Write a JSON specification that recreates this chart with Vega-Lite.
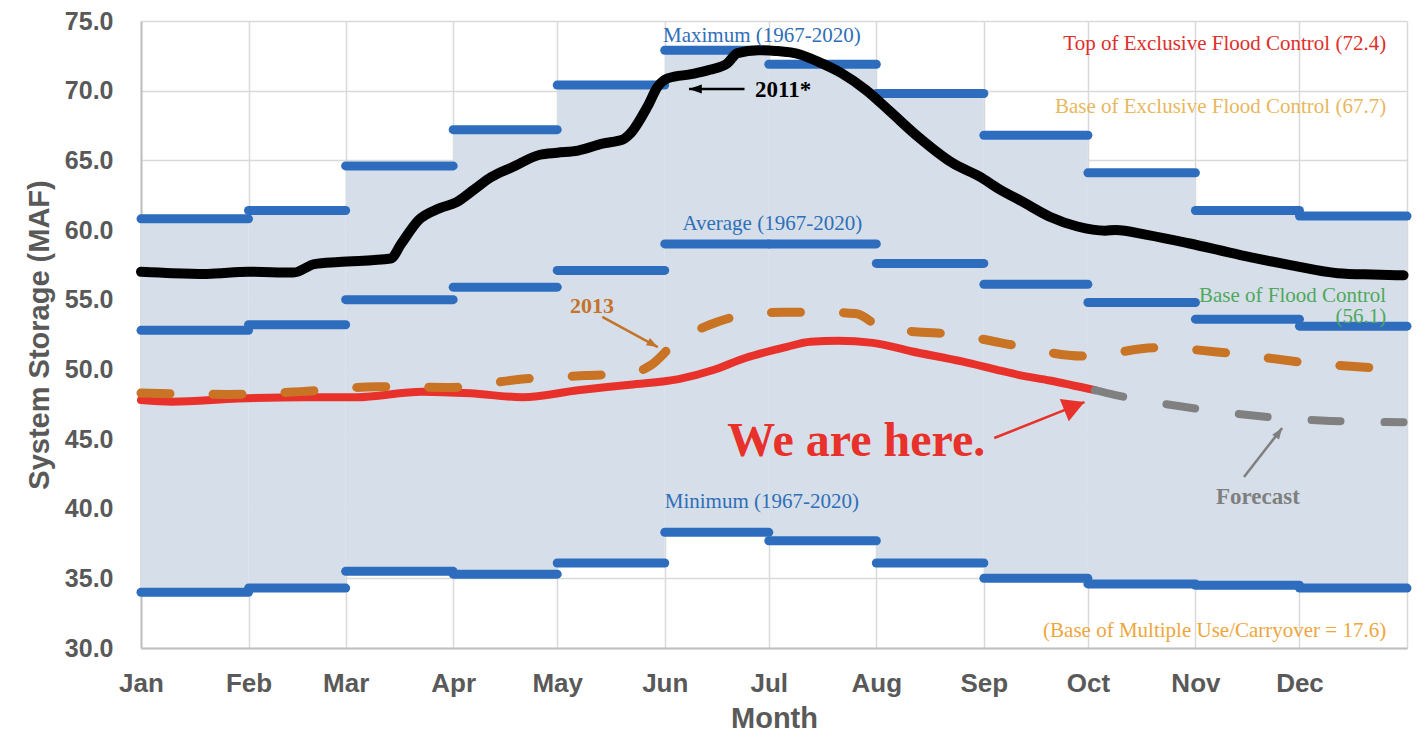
{
  "$schema": "https://vega.github.io/schema/vega-lite/v6.json",
  "width": 1266,
  "height": 627,
  "autosize": {"type": "none"},
  "padding": {"left": 141, "top": 21, "right": 10, "bottom": 84},
  "background": "white",
  "config": {
    "view": {"stroke": null},
    "axisX": {
      "grid": true, "gridColor": "#d9d9d9", "gridWidth": 1.5,
      "domainColor": "#bfbfbf", "domainWidth": 2,
      "ticks": false, "tickSize": 0,
      "labelFlush": false, "labelOverlap": false, "labelBound": false,
      "labelPadding": 22, "labelFontSize": 26, "labelFont": "Liberation Sans",
      "labelFontWeight": "bold", "labelColor": "#595959",
      "titleFontSize": 29, "titleFont": "Liberation Sans", "titleFontWeight": "bold",
      "titleColor": "#595959", "titlePadding": 8
    },
    "axisY": {
      "grid": true, "gridColor": "#d9d9d9", "gridWidth": 1.5,
      "domainColor": "#bfbfbf", "domainWidth": 2,
      "ticks": false, "tickSize": 0,
      "labelPadding": 28, "labelFontSize": 25, "labelFont": "Liberation Sans",
      "labelFontWeight": "bold", "labelColor": "#595959",
      "titleFontSize": 29, "titleFont": "Liberation Sans", "titleFontWeight": "bold",
      "titleColor": "#595959", "titlePadding": 10
    }
  },
  "datasets": {
    "envelope": [
      {"date": "2021-01-01", "date_end": "2021-02-01", "min": 34.0, "avg": 52.8, "max": 60.8},
      {"date": "2021-02-01", "date_end": "2021-03-01", "min": 34.3, "avg": 53.2, "max": 61.4},
      {"date": "2021-03-01", "date_end": "2021-04-01", "min": 35.5, "avg": 55.0, "max": 64.6},
      {"date": "2021-04-01", "date_end": "2021-05-01", "min": 35.3, "avg": 55.9, "max": 67.2},
      {"date": "2021-05-01", "date_end": "2021-06-01", "min": 36.1, "avg": 57.1, "max": 70.4},
      {"date": "2021-06-01", "date_end": "2021-07-01", "min": 38.3, "avg": 59.0, "max": 72.9},
      {"date": "2021-07-01", "date_end": "2021-08-01", "min": 37.7, "avg": 59.0, "max": 71.9},
      {"date": "2021-08-01", "date_end": "2021-09-01", "min": 36.1, "avg": 57.6, "max": 69.8},
      {"date": "2021-09-01", "date_end": "2021-10-01", "min": 35.0, "avg": 56.1, "max": 66.8},
      {"date": "2021-10-01", "date_end": "2021-11-01", "min": 34.6, "avg": 54.8, "max": 64.1},
      {"date": "2021-11-01", "date_end": "2021-12-01", "min": 34.5, "avg": 53.6, "max": 61.4},
      {"date": "2021-12-01", "date_end": "2022-01-01", "min": 34.3, "avg": 53.1, "max": 61.0}
    ],
    "refs": [
      {"name": "Top of Exclusive Flood Control", "value": 72.4},
      {"name": "Base of Exclusive Flood Control", "value": 67.7},
      {"name": "Base of Flood Control", "value": 56.1}
    ],
    "y2011": [
      {"date": "2021-01-01", "value": 57.0},
      {"date": "2021-01-10", "value": 56.9},
      {"date": "2021-01-20", "value": 56.85},
      {"date": "2021-02-01", "value": 57.0},
      {"date": "2021-02-14", "value": 56.95},
      {"date": "2021-02-20", "value": 57.55},
      {"date": "2021-02-27", "value": 57.7},
      {"date": "2021-03-14", "value": 57.95},
      {"date": "2021-03-17", "value": 59.0},
      {"date": "2021-03-22", "value": 60.7},
      {"date": "2021-03-28", "value": 61.55},
      {"date": "2021-04-02", "value": 62.0},
      {"date": "2021-04-07", "value": 62.9},
      {"date": "2021-04-12", "value": 63.8},
      {"date": "2021-04-18", "value": 64.5},
      {"date": "2021-04-26", "value": 65.4},
      {"date": "2021-05-01", "value": 65.55},
      {"date": "2021-05-07", "value": 65.7},
      {"date": "2021-05-14", "value": 66.2},
      {"date": "2021-05-20", "value": 66.5},
      {"date": "2021-05-22", "value": 66.9},
      {"date": "2021-05-27", "value": 68.85},
      {"date": "2021-05-30", "value": 70.3},
      {"date": "2021-06-02", "value": 70.9},
      {"date": "2021-06-09", "value": 71.2},
      {"date": "2021-06-14", "value": 71.5},
      {"date": "2021-06-19", "value": 71.95},
      {"date": "2021-06-22", "value": 72.7},
      {"date": "2021-06-28", "value": 72.9},
      {"date": "2021-07-03", "value": 72.85},
      {"date": "2021-07-10", "value": 72.6},
      {"date": "2021-07-15", "value": 72.1},
      {"date": "2021-07-22", "value": 71.25},
      {"date": "2021-07-29", "value": 70.05},
      {"date": "2021-08-05", "value": 68.5},
      {"date": "2021-08-13", "value": 66.7},
      {"date": "2021-08-23", "value": 64.8},
      {"date": "2021-08-31", "value": 63.8},
      {"date": "2021-09-05", "value": 63.0},
      {"date": "2021-09-12", "value": 62.05},
      {"date": "2021-09-20", "value": 60.95},
      {"date": "2021-09-28", "value": 60.25},
      {"date": "2021-10-06", "value": 59.95},
      {"date": "2021-10-09", "value": 60.0},
      {"date": "2021-10-18", "value": 59.65},
      {"date": "2021-10-30", "value": 59.05},
      {"date": "2021-11-14", "value": 58.2},
      {"date": "2021-11-28", "value": 57.5},
      {"date": "2021-12-12", "value": 56.9},
      {"date": "2021-12-22", "value": 56.8},
      {"date": "2021-12-31", "value": 56.75}
    ],
    "y2013": [
      {"date": "2021-01-01", "value": 48.3},
      {"date": "2021-01-26", "value": 48.2},
      {"date": "2021-02-16", "value": 48.4},
      {"date": "2021-03-10", "value": 48.75},
      {"date": "2021-03-31", "value": 48.7},
      {"date": "2021-04-21", "value": 49.3},
      {"date": "2021-05-09", "value": 49.55},
      {"date": "2021-05-22", "value": 49.7},
      {"date": "2021-05-28", "value": 50.3},
      {"date": "2021-06-04", "value": 51.9},
      {"date": "2021-06-14", "value": 53.2},
      {"date": "2021-06-24", "value": 53.9},
      {"date": "2021-07-05", "value": 54.1},
      {"date": "2021-07-17", "value": 54.1},
      {"date": "2021-07-26", "value": 54.0},
      {"date": "2021-08-03", "value": 52.95},
      {"date": "2021-08-12", "value": 52.7},
      {"date": "2021-08-24", "value": 52.5},
      {"date": "2021-09-06", "value": 51.9},
      {"date": "2021-09-30", "value": 50.95},
      {"date": "2021-10-21", "value": 51.55},
      {"date": "2021-11-11", "value": 51.15},
      {"date": "2021-12-02", "value": 50.5},
      {"date": "2021-12-23", "value": 50.1},
      {"date": "2021-12-31", "value": 50.0}
    ],
    "y2021": [
      {"date": "2021-01-01", "value": 47.8},
      {"date": "2021-01-10", "value": 47.68},
      {"date": "2021-01-29", "value": 47.9},
      {"date": "2021-02-17", "value": 48.0},
      {"date": "2021-03-04", "value": 48.0},
      {"date": "2021-03-23", "value": 48.4},
      {"date": "2021-04-06", "value": 48.28},
      {"date": "2021-04-21", "value": 48.0},
      {"date": "2021-05-07", "value": 48.5},
      {"date": "2021-05-22", "value": 48.9},
      {"date": "2021-06-05", "value": 49.3},
      {"date": "2021-06-15", "value": 49.95},
      {"date": "2021-06-24", "value": 50.8},
      {"date": "2021-07-06", "value": 51.6},
      {"date": "2021-07-13", "value": 51.98},
      {"date": "2021-07-21", "value": 52.05},
      {"date": "2021-07-31", "value": 51.9},
      {"date": "2021-08-11", "value": 51.3},
      {"date": "2021-08-26", "value": 50.55},
      {"date": "2021-09-05", "value": 49.95},
      {"date": "2021-09-11", "value": 49.6},
      {"date": "2021-09-20", "value": 49.2},
      {"date": "2021-10-03", "value": 48.5}
    ],
    "forecast": [
      {"date": "2021-10-03", "value": 48.5},
      {"date": "2021-10-09", "value": 48.15},
      {"date": "2021-10-29", "value": 47.3},
      {"date": "2021-11-19", "value": 46.65},
      {"date": "2021-12-10", "value": 46.3},
      {"date": "2021-12-31", "value": 46.2}
    ],
    "arrows": [
      {"arrow": "a2011", "date": "2021-06-24", "value": 70.12, "date2": "2021-06-08", "value2": 70.12},
      {"arrow": "a2013", "date": "2021-05-14", "value": 53.76, "date2": "2021-05-30", "value2": 51.6},
      {"arrow": "here", "date": "2021-09-04", "value": 45.07, "date2": "2021-09-30", "value2": 47.65},
      {"arrow": "forecast", "date": "2021-11-15", "value": 42.27, "date2": "2021-11-26", "value2": 45.79}
    ],
    "notes": [
      {"group": "envelope", "date": "2021-06-29", "value": 73.5, "label": "Maximum (1967-2020)"},
      {"group": "envelope", "date": "2021-07-02", "value": 60.0, "label": "Average (1967-2020)"},
      {"group": "envelope", "date": "2021-06-29", "value": 40.03, "label": "Minimum (1967-2020)"},
      {"group": "top", "date": "2021-12-26", "value": 72.92, "label": "Top of Exclusive Flood Control (72.4)"},
      {"group": "baseexcl", "date": "2021-12-26", "value": 68.38, "label": "Base of Exclusive Flood Control (67.7)"},
      {"group": "baseflood", "date": "2021-12-26", "value": 54.85, "label": "Base of Flood Control"},
      {"group": "baseflood", "date": "2021-12-26", "value": 53.3, "label": "(56.1)"},
      {"group": "carryover", "date": "2021-12-26", "value": 30.77, "label": "(Base of Multiple Use/Carryover = 17.6)"},
      {"group": "s2011", "date": "2021-06-27", "value": 69.55, "label": "2011*"},
      {"group": "s2013", "date": "2021-05-11", "value": 54.04, "label": "2013"},
      {"group": "here", "date": "2021-06-19", "value": 43.8, "label": "We are here."},
      {"group": "forecast", "date": "2021-11-19", "value": 40.33, "label": "Forecast"}
    ]
  },
  "encoding": {
    "x": {
      "field": "date", "type": "temporal", "title": "Month",
      "scale": {"type": "utc", "nice": false,
        "domain": [{"year": 2021, "month": 1, "date": 1, "utc": true}, {"year": 2022, "month": 1, "date": 1, "utc": true}]},
      "axis": {
        "tickCount": {"interval": "month", "step": 1},
        "labelExpr": "utcyear(datum.value) > 2021 ? '' : utcFormat(datum.value, '%b')"
      }
    },
    "y": {
      "field": "value", "type": "quantitative", "title": "System Storage (MAF)",
      "scale": {"domain": [30, 75], "nice": false, "zero": false},
      "axis": {"values": [30, 35, 40, 45, 50, 55, 60, 65, 70, 75], "format": ".1f"}
    }
  },
  "layer": [
    {
      "data": {"name": "envelope"},
      "mark": {"type": "rect", "color": "#d6dfe9"},
      "encoding": {
        "x2": {"field": "date_end"},
        "y": {"field": "min", "type": "quantitative", "title": "System Storage (MAF)"},
        "y2": {"field": "max"}
      }
    },
    {
      "data": {"name": "envelope"},
      "transform": [{"fold": ["min", "avg", "max"]}],
      "mark": {"type": "rule", "color": "#2e6dbd", "strokeWidth": 9, "strokeCap": "round"},
      "encoding": {"x2": {"field": "date_end"}}
    },
    {
      "data": {"name": "refs"},
      "mark": {"type": "rule", "strokeWidth": 2, "opacity": 0.9},
      "encoding": {
        "x": {"datum": {"year": 2021, "month": 1, "date": 1, "utc": true}, "type": "temporal", "title": "Month"},
        "x2": {"datum": {"year": 2022, "month": 1, "date": 1, "utc": true}},
        "stroke": {"field": "name", "type": "nominal", "legend": null,
          "scale": {"domain": ["Top of Exclusive Flood Control", "Base of Exclusive Flood Control", "Base of Flood Control"],
                    "range": ["#e8352b", "#f5c242", "#55b05e"]}}
      }
    },
    {
      "data": {"name": "y2021"},
      "mark": {"type": "line", "color": "#e8312a", "strokeWidth": 8, "interpolate": "monotone", "strokeCap": "round"}
    },
    {
      "data": {"name": "forecast"},
      "mark": {"type": "line", "color": "#808080", "strokeWidth": 8, "interpolate": "monotone", "strokeCap": "round", "strokeDash": [29, 44]}
    },
    {
      "data": {"name": "y2013"},
      "mark": {"type": "line", "color": "#c97325", "strokeWidth": 9, "interpolate": "monotone", "strokeCap": "round", "strokeDash": [29, 43]}
    },
    {
      "data": {"name": "y2011"},
      "mark": {"type": "line", "color": "#000000", "strokeWidth": 10, "interpolate": "monotone", "strokeCap": "round"}
    },
    {
      "data": {"name": "arrows"},
      "mark": {"type": "rule"},
      "encoding": {
        "x2": {"field": "date2"},
        "y2": {"field": "value2"},
        "color": {"field": "arrow", "type": "nominal", "legend": null,
          "scale": {"domain": ["a2011", "a2013", "here", "forecast"], "range": ["#000000", "#c4732a", "#e8312a", "#7f7f7f"]}},
        "strokeWidth": {"field": "arrow", "type": "nominal", "legend": null,
          "scale": {"domain": ["a2011", "a2013", "here", "forecast"], "range": [2.5, 2.5, 4.5, 2.5]}}
      }
    },
    {
      "data": {"name": "arrows"},
      "transform": [{"filter": "datum.arrow == 'a2011'"}],
      "mark": {"type": "point", "shape": "M0,0L-1.6,-0.55L-1.6,0.55Z", "filled": true, "color": "#000000", "size": 256, "angle": 180, "opacity": 1},
      "encoding": {
        "x": {"field": "date2", "type": "temporal", "title": "Month"},
        "y": {"field": "value2", "type": "quantitative", "title": "System Storage (MAF)"}
      }
    },
    {
      "data": {"name": "arrows"},
      "transform": [{"filter": "datum.arrow == 'a2013'"}],
      "mark": {"type": "point", "shape": "M0,0L-1.6,-0.6L-1.6,0.6Z", "filled": true, "color": "#c4732a", "size": 196, "angle": 28.6, "opacity": 1},
      "encoding": {
        "x": {"field": "date2", "type": "temporal", "title": "Month"},
        "y": {"field": "value2", "type": "quantitative", "title": "System Storage (MAF)"}
      }
    },
    {
      "data": {"name": "arrows"},
      "transform": [{"filter": "datum.arrow == 'here'"}],
      "mark": {"type": "point", "shape": "M0,0L-1.45,-0.8L-1.45,0.8Z", "filled": true, "color": "#e8312a", "size": 900, "angle": 338, "opacity": 1},
      "encoding": {
        "x": {"field": "date2", "type": "temporal", "title": "Month"},
        "y": {"field": "value2", "type": "quantitative", "title": "System Storage (MAF)"}
      }
    },
    {
      "data": {"name": "arrows"},
      "transform": [{"filter": "datum.arrow == 'forecast'"}],
      "mark": {"type": "point", "shape": "M0,0L-1.6,-0.6L-1.6,0.6Z", "filled": true, "color": "#7f7f7f", "size": 196, "angle": 305.5, "opacity": 1},
      "encoding": {
        "x": {"field": "date2", "type": "temporal", "title": "Month"},
        "y": {"field": "value2", "type": "quantitative", "title": "System Storage (MAF)"}
      }
    },
    {
      "data": {"name": "notes"},
      "transform": [{"filter": "datum.group == 'envelope'"}],
      "mark": {"type": "text", "font": "Liberation Serif", "fontSize": 21, "color": "#2f6eb8", "align": "center", "baseline": "alphabetic"},
      "encoding": {"text": {"field": "label"}}
    },
    {
      "data": {"name": "notes"},
      "transform": [{"filter": "datum.group == 'top'"}],
      "mark": {"type": "text", "font": "Liberation Serif", "fontSize": 21, "color": "#de2f2a", "align": "right", "baseline": "alphabetic"},
      "encoding": {"text": {"field": "label"}}
    },
    {
      "data": {"name": "notes"},
      "transform": [{"filter": "datum.group == 'baseexcl'"}],
      "mark": {"type": "text", "font": "Liberation Serif", "fontSize": 21, "color": "#e8b75e", "align": "right", "baseline": "alphabetic"},
      "encoding": {"text": {"field": "label"}}
    },
    {
      "data": {"name": "notes"},
      "transform": [{"filter": "datum.group == 'baseflood'"}],
      "mark": {"type": "text", "font": "Liberation Serif", "fontSize": 21, "color": "#4fa85c", "align": "right", "baseline": "alphabetic"},
      "encoding": {"text": {"field": "label"}}
    },
    {
      "data": {"name": "notes"},
      "transform": [{"filter": "datum.group == 'carryover'"}],
      "mark": {"type": "text", "font": "Liberation Serif", "fontSize": 21, "color": "#eea63c", "align": "right", "baseline": "alphabetic"},
      "encoding": {"text": {"field": "label"}}
    },
    {
      "data": {"name": "notes"},
      "transform": [{"filter": "datum.group == 's2011'"}],
      "mark": {"type": "text", "font": "Liberation Serif", "fontSize": 23, "fontWeight": "bold", "color": "#000000", "align": "left", "baseline": "alphabetic"},
      "encoding": {"text": {"field": "label"}}
    },
    {
      "data": {"name": "notes"},
      "transform": [{"filter": "datum.group == 's2013'"}],
      "mark": {"type": "text", "font": "Liberation Serif", "fontSize": 22, "fontWeight": "bold", "color": "#c4732a", "align": "center", "baseline": "alphabetic"},
      "encoding": {"text": {"field": "label"}}
    },
    {
      "data": {"name": "notes"},
      "transform": [{"filter": "datum.group == 'here'"}],
      "mark": {"type": "text", "font": "Liberation Serif", "fontSize": 48, "fontWeight": "bold", "color": "#e8312a", "align": "left", "baseline": "alphabetic"},
      "encoding": {"text": {"field": "label"}}
    },
    {
      "data": {"name": "notes"},
      "transform": [{"filter": "datum.group == 'forecast'"}],
      "mark": {"type": "text", "font": "Liberation Serif", "fontSize": 23, "fontWeight": "bold", "color": "#7f7f7f", "align": "center", "baseline": "alphabetic"},
      "encoding": {"text": {"field": "label"}}
    }
  ]
}
